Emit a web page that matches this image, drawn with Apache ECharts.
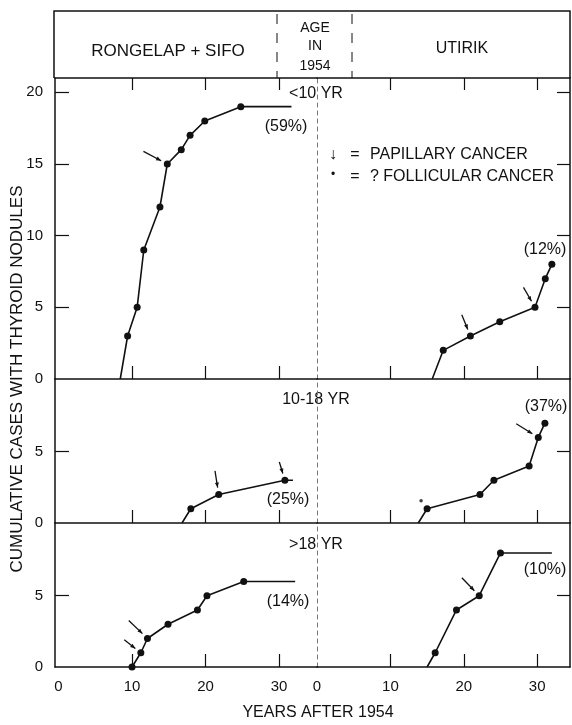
<!DOCTYPE html>
<html>
<head>
<meta charset="utf-8">
<script src="https://cdn.jsdelivr.net/npm/echarts@6/dist/echarts.min.js"></script>
<style>
  html, body { margin: 0; padding: 0; background: #fff; }
  #charts { width: 572px; height: 725px; }
</style>
</head>
<body>
<div id="charts"></div>
<script>
// cumulative thyroid nodule cases, [years after 1954, cases]
var rongelapUnder10 = [[8.4,0],[9.4,3],[10.7,5],[11.6,9],[13.8,12],[14.8,15],[16.7,16],[17.9,17],[19.9,18],[24.8,19],[31.7,19]];
var utirikUnder10   = [[15.7,0],[17.2,2],[20.9,3],[24.9,4],[29.7,5],[31.1,7],[32.0,8]];
var rongelap10to18  = [[16.8,0],[18.0,1],[21.8,2],[30.8,3],[31.9,3]];
var utirik10to18    = [[13.8,0],[15.0,1],[22.2,2],[24.1,3],[28.9,4],[30.15,6],[31.05,7]];
var rongelapOver18  = [[10.0,0],[11.2,1],[12.1,2],[14.9,3],[18.9,4],[20.2,5],[25.2,6],[32.2,6]];
var utirikOver18    = [[15.0,0],[16.1,1],[19.0,4],[22.1,5],[25.0,8],[32.0,8]];

// papillary cancer arrows: [year, cases, tilt from vertical (deg), length]
var arrowsTL = [[14.8,15,62,20]];
var arrowsTR = [[20.9,3,22,16],[29.7,5,30,16]];
var arrowsML = [[21.8,2,9,17],[30.8,3,17,12]];
var arrowsMR = [[30.15,6,58,19]];
var arrowsBL = [[11.2,1,52,14],[12.1,2,46,19]];
var arrowsBR = [[22.1,5,44,18]];
// ? follicular cancer
var follicularMR = [[15.0,1]];

var percentLabels = ['(59%)','(12%)','(25%)','(37%)','(14%)','(10%)'];
var ageGroups = ['<10 YR','10-18 YR','>18 YR'];
var xTicks = [0,10,20,30];
var yTicksTop = [0,5,10,15,20];
var yTicksLow = [0,5];

var FONT = '"Liberation Sans", Arial, sans-serif';
var INK = '#111';

var chart = echarts.init(document.getElementById('charts'));

var colL = {left:55, width:262, min:-0.48, max:35.17};
var colR = {left:317, width:253, min:0, max:34.47};
var rows = [{top:78, height:301, max:21, ticks:yTicksTop},
            {top:379, height:144, max:10.1, ticks:yTicksLow},
            {top:523, height:144, max:10.1, ticks:yTicksLow}];

var grids = [], xAxes = [], yAxes = [];
rows.forEach(function(r, ri){
  [colL, colR].forEach(function(c, ci){
    var gi = grids.length;
    grids.push({left:c.left, top:r.top, width:c.width, height:r.height});
    xAxes.push({
      type:'value', gridIndex:gi, min:c.min, max:c.max, position:'bottom',
      axisLine:{onZero:false, lineStyle:{color:INK, width:1.5}},
      axisTick:{inside:true, length:13, customValues:[10,20,30], lineStyle:{color:INK, width:1.2}},
      axisLabel:{show: ri === 2, customValues:xTicks, margin:12, color:INK, fontSize:15, fontFamily:FONT},
      splitLine:{show:false}
    });
    yAxes.push({
      type:'value', gridIndex:gi, min:0, max:r.max, position:'left',
      axisLine:{show:true, onZero:false, lineStyle: ci === 0 ? {color:INK, width:1.5} : {color:'#777', width:1, type:[4,4]}},
      axisTick:{show: ci === 0, inside:true, length:14, customValues:r.ticks.slice(1), lineStyle:{color:INK, width:1.2}},
      axisLabel:{show: ci === 0, customValues:r.ticks, margin:12, color:INK, fontSize:15, fontFamily:FONT},
      splitLine:{show:false}
    });
  });
});
// top edge ticks
[0,1].forEach(function(gi){
  var c = gi === 0 ? colL : colR;
  xAxes.push({
    type:'value', gridIndex:gi, min:c.min, max:c.max, position:'top',
    axisLine:{onZero:false, lineStyle:{color:INK, width:1.5}},
    axisTick:{inside:true, length:12, customValues:[10,20,30], lineStyle:{color:INK, width:1.2}},
    axisLabel:{show:false}, splitLine:{show:false}
  });
});
// right border ticks
[1,3,5].forEach(function(gi){
  var r = rows[(gi-1)/2];
  yAxes.push({
    type:'value', gridIndex:gi, min:0, max:r.max, position:'right',
    axisLine:{show:true, onZero:false, lineStyle:{color:INK, width:1.5}},
    axisTick:{inside:true, length:13, customValues:r.ticks.slice(1), lineStyle:{color:INK, width:1.2}},
    axisLabel:{show:false}, splitLine:{show:false}
  });
});

function curve(gi, pts, bare){
  return {
    type:'line', xAxisIndex:gi, yAxisIndex:gi, silent:true, animation:false,
    data: pts.map(function(p, i){
      return {value:p, symbol: bare.indexOf(i) >= 0 ? 'none' : 'circle'};
    }),
    symbolSize:7, showAllSymbol:true,
    itemStyle:{color:INK},
    lineStyle:{color:INK, width:1.6}
  };
}

function arrows(gi, list){
  return {
    type:'custom', xAxisIndex:gi, yAxisIndex:gi, silent:true, animation:false,
    data:list,
    renderItem:function(params, api){
      var p = api.coord([api.value(0), api.value(1)]);
      var a = api.value(2) * Math.PI / 180, len = api.value(3);
      var ux = -Math.sin(a), uy = -Math.cos(a);
      var hx = p[0] + ux*7, hy = p[1] + uy*7;
      var tx = p[0] + ux*(7+len), ty = p[1] + uy*(7+len);
      return {type:'group', children:[
        {type:'line', shape:{x1:tx, y1:ty, x2:hx, y2:hy}, style:{stroke:INK, lineWidth:1.3}},
        {type:'polygon', shape:{points:[[hx,hy],[hx+ux*5-uy*2, hy+uy*5+ux*2],[hx+ux*5+uy*2, hy+uy*5-ux*2]]}, style:{fill:INK}}
      ]};
    }
  };
}

var series = [
  curve(0, rongelapUnder10, [0,10]),
  curve(1, utirikUnder10, [0]),
  curve(2, rongelap10to18, [0,4]),
  curve(3, utirik10to18, [0]),
  curve(4, rongelapOver18, [7]),
  curve(5, utirikOver18, [0,5]),
  arrows(0, arrowsTL), arrows(1, arrowsTR), arrows(2, arrowsML),
  arrows(3, arrowsMR), arrows(4, arrowsBL), arrows(5, arrowsBR),
  {type:'scatter', xAxisIndex:3, yAxisIndex:3, silent:true, data:follicularMR,
   symbol:'circle', symbolSize:3.5, symbolOffset:[-6,-8], itemStyle:{color:INK}}
];

function txt(s, x, y, size, align){
  return {type:'text', x:x, y:y, silent:true,
    style:{text:s, font:size + 'px ' + FONT, fill:INK, textAlign:align || 'center', textVerticalAlign:'middle'}};
}

var graphic = [
  {type:'polyline', silent:true, shape:{points:[[54,78],[54,11],[570,11],[570,78]]}, style:{stroke:INK, lineWidth:1.5, fill:null}},
  {type:'line', silent:true, shape:{x1:277, y1:14, x2:277, y2:78}, style:{stroke:INK, lineWidth:1, lineDash:[10,9]}},
  {type:'line', silent:true, shape:{x1:352, y1:14, x2:352, y2:78}, style:{stroke:INK, lineWidth:1, lineDash:[10,9]}},
  txt('RONGELAP + SIFO', 168, 51, 17),
  txt('UTIRIK', 462, 49, 16),
  txt('AGE', 315, 28, 14), txt('IN', 315, 46, 14), txt('1954', 315, 66, 14),
  txt(ageGroups[0], 316, 94, 16), txt(ageGroups[1], 316, 400, 16), txt(ageGroups[2], 316, 545, 16),
  txt(percentLabels[0], 286, 127, 16), txt(percentLabels[1], 545, 250, 16),
  txt(percentLabels[2], 288, 500, 16), txt(percentLabels[3], 546, 407, 16),
  txt(percentLabels[4], 288, 602, 16), txt(percentLabels[5], 545, 570, 16),
  txt('\u2193', 333, 155, 16), txt('=', 355, 155, 16), txt('PAPILLARY CANCER', 370, 155, 16, 'left'),
  txt('\u2022', 333, 175, 12), txt('=', 355, 177, 16), txt('? FOLLICULAR CANCER', 370, 177, 16, 'left'),
  txt('YEARS AFTER 1954', 318, 713, 16),
  {type:'text', x:17, y:379, rotation:Math.PI/2, silent:true,
   style:{text:'CUMULATIVE CASES WITH THYROID NODULES', font:'17px ' + FONT, fill:INK, textAlign:'center', textVerticalAlign:'middle'}}
];

var option = {
  backgroundColor:'#fff',
  animation:false,
  grid:grids, xAxis:xAxes, yAxis:yAxes,
  series:series,
  graphic:graphic
};
chart.setOption(option);
</script>
</body>
</html>
